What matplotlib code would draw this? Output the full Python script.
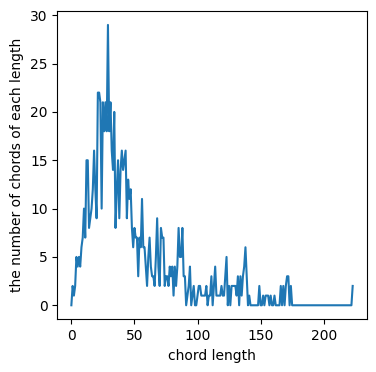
import numpy as np
import matplotlib
matplotlib.use('Agg')
import matplotlib.pyplot as plt

# liczba cięciw dla każdej długości
counts_0_59 = [0, 2, 1, 2, 5, 4, 5, 4, 6, 7,
               10, 7, 15, 15, 8, 9, 10, 12, 16, 12,
               9, 22, 22, 21, 10, 21, 18, 21, 18, 29,
               18, 21, 16, 14, 20, 8, 12, 15, 9, 14,
               16, 14, 15, 16, 9, 13, 11, 12, 8, 6,
               8, 7, 7, 3, 7, 6, 11, 6, 6, 4]
counts_60_119 = [2, 5, 7, 4, 3, 3, 2, 5, 9, 4,
                 2, 8, 7, 7, 2, 3, 3, 2, 4, 3,
                 4, 1, 4, 2, 4, 8, 5, 5, 8, 3,
                 3, 0, 1, 2, 4, 0, 1, 2, 0, 0,
                 1, 2, 2, 1, 1, 1, 1, 2, 0, 1,
                 1, 3, 0, 2, 4, 1, 1, 1, 1, 2]
counts_120_179 = [1, 1, 3, 5, 0, 2, 0, 2, 2, 2,
                  2, 1, 3, 0, 3, 1, 3, 4, 6, 3,
                  0, 1, 0, 0, 0, 0, 0, 0, 0, 2,
                  0, 0, 1, 0, 1, 1, 1, 0, 1, 0,
                  0, 1, 0, 0, 0, 0, 2, 0, 2, 0,
                  2, 3, 3, 0, 2, 0, 0, 0, 0, 0]
counts_180_223 = [0] * 43 + [2]

counts = counts_0_59 + counts_60_119 + counts_120_179 + counts_180_223
lengths = np.arange(len(counts))

fig = plt.figure(figsize=(3.76, 3.72), dpi=100)
ax = fig.add_axes([0.1524, 0.1417, 0.823, 0.829])
ax.plot(lengths, counts)
ax.set_xlabel('chord length')
ax.set_ylabel('the number of chords of each length')

plt.savefig('out.png')
